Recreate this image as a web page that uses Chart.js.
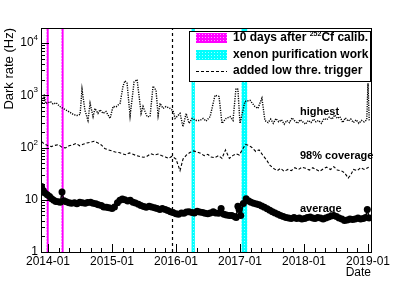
<!DOCTYPE html>
<html>
<head>
<meta charset="utf-8">
<script src="https://cdn.jsdelivr.net/npm/chart.js@4.4.1/dist/chart.umd.min.js"></script>
<style>html,body{margin:0;padding:0;background:#fff}</style>
</head>
<body>
<canvas id="c" width="415" height="281"></canvas>
<script>
// average dark rate (Hz)
const avgDates = ["2013-11-25","2013-12-05","2013-12-15","2013-12-28","2014-01-10","2014-01-22","2014-02-03","2014-02-15","2014-03-01","2014-03-12","2014-03-22","2014-04-02","2014-04-15","2014-05-01","2014-05-15","2014-06-01","2014-06-15","2014-07-01","2014-07-15","2014-08-01","2014-08-15","2014-09-01","2014-09-15","2014-10-01","2014-10-15","2014-11-01","2014-11-15","2014-12-01","2014-12-15","2015-01-01","2015-01-15","2015-02-01","2015-02-15","2015-03-01","2015-03-15","2015-04-01","2015-04-15","2015-05-01","2015-05-15","2015-06-01","2015-06-15","2015-07-01","2015-07-15","2015-08-01","2015-08-15","2015-09-01","2015-09-15","2015-10-01","2015-10-15","2015-11-01","2015-11-15","2015-12-01","2015-12-15","2016-01-01","2016-01-15","2016-02-01","2016-02-15","2016-03-01","2016-03-15","2016-04-01","2016-04-15","2016-05-01","2016-05-15","2016-06-01","2016-06-15","2016-07-01","2016-07-15","2016-08-01","2016-08-15","2016-09-01","2016-09-15","2016-10-01","2016-10-15","2016-11-01","2016-11-15","2016-12-01","2016-12-10","2016-12-20","2016-12-27","2017-01-05","2017-01-20","2017-02-05","2017-02-20","2017-03-05","2017-03-20","2017-04-05","2017-04-20","2017-05-05","2017-05-20","2017-06-05","2017-06-20","2017-07-05","2017-07-20","2017-08-05","2017-08-20","2017-09-05","2017-09-20","2017-10-05","2017-10-20","2017-11-05","2017-11-20","2017-12-05","2017-12-20","2018-01-05","2018-01-20","2018-02-05","2018-02-20","2018-03-05","2018-03-20","2018-04-05","2018-04-20","2018-05-05","2018-05-20","2018-06-05","2018-06-20","2018-07-05","2018-07-20","2018-08-05","2018-08-20","2018-09-05","2018-09-20","2018-10-05","2018-10-20","2018-11-05","2018-11-20","2018-12-05","2018-12-18","2018-12-28","2019-01-08"];
const avgValues = [18,15,13.5,12.5,11.5,10.5,9.8,9.3,9.2,9.0,14,9.6,9.2,8.8,8.6,8.8,8.4,9.0,8.8,8.6,8.9,9.0,8.6,8.4,8.0,7.8,7.3,7.2,7.0,6.8,7.3,8.8,9.8,10.3,10.0,9.5,9.8,9.0,8.7,8.2,7.8,7.4,7.2,7.5,7.3,7.0,6.8,6.5,6.8,6.5,6.2,5.9,5.7,5.4,5.3,5.6,5.5,5.8,5.9,5.7,5.6,6.0,5.8,5.7,5.5,5.4,5.6,5.9,5.6,5.5,6.8,5.3,5.1,5.0,5.0,4.8,4.6,7.5,6.5,5.0,8.5,10.5,9.5,9.0,8.6,8.3,8.0,7.6,7.2,6.7,6.3,5.9,5.6,5.3,5.0,4.8,4.6,4.5,4.4,4.6,4.4,4.5,4.3,4.4,4.6,4.7,4.5,4.4,4.6,4.5,4.3,4.5,4.7,4.9,5.0,4.8,4.5,4.3,4.0,4.1,4.3,4.2,4.3,4.5,4.3,4.4,4.6,6.5,4.5];

// 98% coverage (Hz)
const covDates = ["2013-11-25","2013-12-10","2014-01-01","2014-01-20","2014-02-10","2014-03-01","2014-03-20","2014-04-10","2014-05-01","2014-05-20","2014-06-10","2014-07-01","2014-07-20","2014-08-10","2014-09-01","2014-09-20","2014-10-10","2014-11-01","2014-11-20","2014-12-10","2015-01-01","2015-01-20","2015-02-10","2015-03-01","2015-03-20","2015-04-10","2015-05-01","2015-05-20","2015-06-10","2015-07-01","2015-07-20","2015-08-10","2015-09-01","2015-09-20","2015-10-10","2015-11-01","2015-11-20","2015-12-10","2016-01-01","2016-01-24","2016-02-10","2016-03-01","2016-03-20","2016-04-10","2016-05-01","2016-05-20","2016-06-10","2016-07-01","2016-07-20","2016-08-10","2016-09-01","2016-09-20","2016-10-10","2016-11-01","2016-11-20","2016-12-10","2016-12-28","2017-02-01","2017-02-20","2017-03-10","2017-04-01","2017-04-20","2017-05-10","2017-06-01","2017-06-20","2017-07-10","2017-08-01","2017-08-20","2017-09-10","2017-10-01","2017-10-20","2017-11-10","2017-12-01","2017-12-20","2018-01-10","2018-02-01","2018-02-20","2018-03-10","2018-04-01","2018-04-20","2018-05-10","2018-06-01","2018-06-20","2018-07-10","2018-08-01","2018-08-20","2018-09-10","2018-09-25","2018-10-10","2018-11-01","2018-11-20","2018-12-10","2019-01-05"];
const covValues = [130,118,108,104,110,114,102,98,108,112,120,108,115,122,126,132,124,112,96,90,86,82,80,76,73,79,74,70,67,65,68,76,72,75,70,66,62,68,60,36,60,72,80,86,82,78,70,74,66,64,70,62,90,62,70,76,72,115,110,100,84,90,72,58,46,40,36,40,35,38,36,41,38,42,40,37,41,38,35,39,42,38,43,37,36,33,26,30,38,36,41,38,42];

// highest (Hz)
const hiDates = ["2013-11-22","2013-12-03","2013-12-10","2013-12-18","2014-01-01","2014-01-15","2014-01-30","2014-02-16","2014-03-10","2014-03-28","2014-04-14","2014-05-07","2014-05-25","2014-06-15","2014-07-03","2014-07-14","2014-07-31","2014-08-17","2014-08-29","2014-09-15","2014-09-26","2014-10-13","2014-10-25","2014-11-11","2014-11-28","2014-12-21","2015-01-07","2015-01-24","2015-02-16","2015-03-05","2015-03-16","2015-03-28","2015-04-14","2015-05-07","2015-05-24","2015-06-04","2015-06-16","2015-06-27","2015-07-20","2015-08-06","2015-08-23","2015-09-09","2015-09-21","2015-10-02","2015-10-19","2015-11-05","2015-11-28","2015-12-15","2015-12-27","2016-01-24","2016-02-10","2016-02-28","2016-03-16","2016-04-02","2016-04-25","2016-05-17","2016-06-04","2016-06-21","2016-07-14","2016-08-11","2016-09-03","2016-09-20","2016-10-13","2016-11-05","2016-11-22","2016-12-09","2016-12-20","2017-01-01","2017-01-29","2017-02-27","2017-03-27","2017-04-13","2017-05-06","2017-05-23","2017-06-10","2017-06-25","2017-07-10","2017-07-25","2017-08-10","2017-08-25","2017-09-10","2017-09-25","2017-10-10","2017-10-25","2017-11-10","2017-11-25","2017-12-10","2017-12-25","2018-01-10","2018-01-25","2018-02-10","2018-02-25","2018-03-10","2018-03-25","2018-04-10","2018-04-25","2018-05-10","2018-05-25","2018-06-10","2018-06-25","2018-07-10","2018-07-25","2018-08-10","2018-08-25","2018-09-10","2018-09-25","2018-10-10","2018-10-25","2018-11-10","2018-11-25","2018-12-10","2018-12-25","2019-01-01","2019-01-08"];
const hiValues = [640,780,1050,700,720,760,680,720,610,560,520,470,430,410,430,1300,510,330,700,390,560,450,530,450,490,360,610,600,700,1500,1900,1700,400,1800,2000,1000,450,610,390,390,1500,1250,410,700,560,610,560,510,360,450,250,450,290,360,330,330,360,320,390,1000,950,290,360,390,330,1350,1300,290,760,800,610,560,880,330,300,350,290,360,310,340,280,330,300,370,320,290,340,310,280,330,300,350,310,330,290,360,340,380,350,420,360,390,300,370,320,350,300,340,290,330,310,340,1700,330];

// periods
const calibBands = [["2013-12-24","2014-01-05"], ["2014-03-19","2014-03-31"]];
const purifyBands = [["2016-03-30","2016-04-18"], ["2017-01-10","2017-02-11"]];
const triggerDate = "2015-12-08";

const xTickYears = [2014, 2015, 2016, 2017, 2018, 2019];
const yTickValues = [1, 10, 100, 1000, 10000];
const legendLabels = ["10 days after ", "xenon purification work", "added low thre. trigger"];
const curveLabels = ["highest", "98% coverage", "average"];

function toYear(s) {
  const [y, m, d] = s.split("-").map(Number);
  const t0 = Date.UTC(y, 0, 1), t1 = Date.UTC(y + 1, 0, 1);
  return y + (Date.UTC(y, m - 1, d) - t0) / (t1 - t0);
}
function pts(dates, vals) {
  return dates.map((d, i) => ({ x: toYear(d), y: vals[i] }));
}

const canvas = document.getElementById("c");
const ctx0 = canvas.getContext("2d");

function makePattern(base, dot) {
  const c = document.createElement("canvas");
  c.width = 3; c.height = 3;
  const g = c.getContext("2d");
  g.fillStyle = base; g.fillRect(0, 0, 3, 3);
  g.fillStyle = dot; g.fillRect(1, 1, 1, 1);
  return ctx0.createPattern(c, "repeat");
}
const magentaFill = makePattern("#ff00ff", "#ff99ff");
const cyanFill = makePattern("#00ffff", "#99ffff");

const FONT = "'Liberation Sans', Arial, Helvetica, sans-serif";

const decor = {
  id: "decor",
  beforeDatasetsDraw(chart) {
    const { ctx, chartArea: a, scales: { x } } = chart;
    ctx.save();
    ctx.beginPath();
    ctx.rect(a.left, a.top, a.right - a.left, a.bottom - a.top);
    ctx.clip();
    calibBands.forEach(([s, e]) => {
      const x0 = x.getPixelForValue(toYear(s)), x1 = x.getPixelForValue(toYear(e));
      ctx.fillStyle = magentaFill;
      ctx.fillRect(x0, a.top, x1 - x0, a.bottom - a.top);
    });
    purifyBands.forEach(([s, e]) => {
      const x0 = x.getPixelForValue(toYear(s)), x1 = x.getPixelForValue(toYear(e));
      ctx.fillStyle = cyanFill;
      ctx.fillRect(x0, a.top, x1 - x0, a.bottom - a.top);
    });
    const tx = Math.round(x.getPixelForValue(toYear(triggerDate))) + 0.5;
    ctx.strokeStyle = "#000";
    ctx.lineWidth = 1.2;
    ctx.setLineDash([3, 3]);
    ctx.beginPath();
    ctx.moveTo(tx, a.bottom);
    ctx.lineTo(tx, a.top);
    ctx.stroke();
    ctx.restore();
  },
  afterDatasetsDraw(chart) {
    const { ctx, chartArea: a, scales: { x, y } } = chart;
    ctx.save();
    // frame
    ctx.strokeStyle = "#000";
    ctx.lineWidth = 1;
    ctx.strokeRect(Math.round(a.left) + 0.5, Math.round(a.top) + 0.5,
      Math.round(a.right - a.left), Math.round(a.bottom - a.top));

    // x ticks (inside)
    ctx.beginPath();
    for (let yr = 2013; yr <= 2019; yr++) {
      for (let k = 0; k < 6; k++) {
        const v = yr + k / 6;
        if (v < x.min || v > x.max) continue;
        const px = Math.round(x.getPixelForValue(v)) + 0.5;
        const len = k === 0 ? 8 : 4;
        ctx.moveTo(px, a.bottom);
        ctx.lineTo(px, a.bottom - len);
      }
    }
    // y ticks (inside)
    for (let p = 0; p <= 4; p++) {
      for (let m = 1; m <= 9; m++) {
        const v = m * Math.pow(10, p);
        if (v > y.max) continue;
        const py = Math.round(y.getPixelForValue(v)) + 0.5;
        const len = m === 1 ? 8 : 4;
        ctx.moveTo(a.left, py);
        ctx.lineTo(a.left + len, py);
      }
    }
    ctx.stroke();

    // y tick labels
    ctx.fillStyle = "#000";
    ctx.textBaseline = "middle";
    ctx.textAlign = "right";
    yTickValues.forEach(v => {
      const py = y.getPixelForValue(v);
      const p = Math.round(Math.log10(v));
      const rx = a.left - 3;
      if (p <= 1) {
        ctx.font = "12px " + FONT;
        ctx.fillText(String(v), rx, py);
      } else {
        ctx.font = "8px " + FONT;
        const sw = ctx.measureText(String(p)).width;
        ctx.fillText(String(p), rx, py - 5);
        ctx.font = "12px " + FONT;
        ctx.fillText("10", rx - sw, py);
      }
    });

    // curve labels
    ctx.textAlign = "left";
    ctx.font = "bold 11px " + FONT;
    const lx = 300;
    ctx.fillText(curveLabels[0], lx, 112);
    ctx.fillText(curveLabels[1], lx, 156);
    ctx.fillText(curveLabels[2], lx, 209);

    // legend
    const L = { x: 189.5, y: 31.5, w: 181, h: 50 };
    ctx.fillStyle = "#fff";
    ctx.fillRect(L.x, L.y, L.w, L.h);
    ctx.strokeStyle = "#000";
    ctx.strokeRect(L.x, L.y, L.w, L.h);
    const rows = [38, 55, 71];
    ctx.fillStyle = magentaFill;
    ctx.fillRect(196, rows[0] - 5, 31, 10);
    ctx.fillStyle = cyanFill;
    ctx.fillRect(196, rows[1] - 5, 31, 10);
    ctx.setLineDash([3, 2]);
    ctx.beginPath();
    ctx.moveTo(196, rows[2] + 0.5);
    ctx.lineTo(227, rows[2] + 0.5);
    ctx.stroke();
    ctx.setLineDash([]);
    ctx.fillStyle = "#000";
    ctx.font = "bold 12px " + FONT;
    const tx = 233;
    ctx.fillText(legendLabels[0], tx, rows[0]);
    let w = ctx.measureText(legendLabels[0]).width;
    ctx.font = "bold 7px " + FONT;
    ctx.fillText("252", tx + w, rows[0] - 4);
    w += ctx.measureText("252").width;
    ctx.font = "bold 12px " + FONT;
    ctx.fillText("Cf calib.", tx + w, rows[0]);
    ctx.fillText(legendLabels[1], tx, rows[1]);
    ctx.fillText(legendLabels[2], tx, rows[2]);
    ctx.restore();
  }
};

new Chart(canvas, {
  type: "line",
  data: {
    datasets: [
      {
        label: "average",
        data: pts(avgDates, avgValues),
        borderColor: "#000",
        borderWidth: 1.5,
        pointRadius: 3.5,
        pointBorderWidth: 0,
        pointBackgroundColor: "#000",
        tension: 0
      },
      {
        label: "98% coverage",
        data: pts(covDates, covValues),
        borderColor: "#000",
        borderWidth: 1.1,
        borderDash: [3, 2],
        pointRadius: 0,
        tension: 0
      },
      {
        label: "highest",
        data: pts(hiDates, hiValues),
        borderColor: "#000",
        borderWidth: 1.4,
        borderDash: [1.2, 1.2],
        pointRadius: 0,
        tension: 0
      }
    ]
  },
  options: {
    responsive: false,
    animation: false,
    devicePixelRatio: 1,
    layout: { padding: { top: 28, right: 44, left: 0, bottom: 0 } },
    plugins: { legend: { display: false }, tooltip: { enabled: false } },
    scales: {
      x: {
        type: "linear",
        min: 2014 + (41 - 48) / 64,
        max: 2014 + (371 - 48) / 64,
        grid: { display: false, drawTicks: false },
        border: { display: false },
        afterBuildTicks: s => { s.ticks = xTickYears.map(v => ({ value: v })); },
        afterFit: s => { s.height = 29; },
        ticks: {
          autoSkip: false,
          maxRotation: 0,
          padding: 2,
          color: "#000",
          font: { family: FONT, size: 12 },
          callback: v => v + "-01"
        },
        title: {
          display: true,
          text: "Date",
          align: "end",
          color: "#000",
          padding: { top: 0, bottom: 1 },
          font: { family: FONT, size: 12 }
        }
      },
      y: {
        type: "logarithmic",
        min: 1,
        max: 19400,
        grid: { display: false, drawTicks: false },
        border: { display: false },
        afterBuildTicks: s => { s.ticks = yTickValues.map(v => ({ value: v })); },
        afterFit: s => { s.width = 41; },
        ticks: { display: false },
        title: {
          display: true,
          text: "Dark rate (Hz)",
          align: "end",
          color: "#000",
          padding: { top: 2, bottom: 0 },
          font: { family: FONT, size: 13 }
        }
      }
    }
  },
  plugins: [decor]
});
</script>
</body>
</html>
